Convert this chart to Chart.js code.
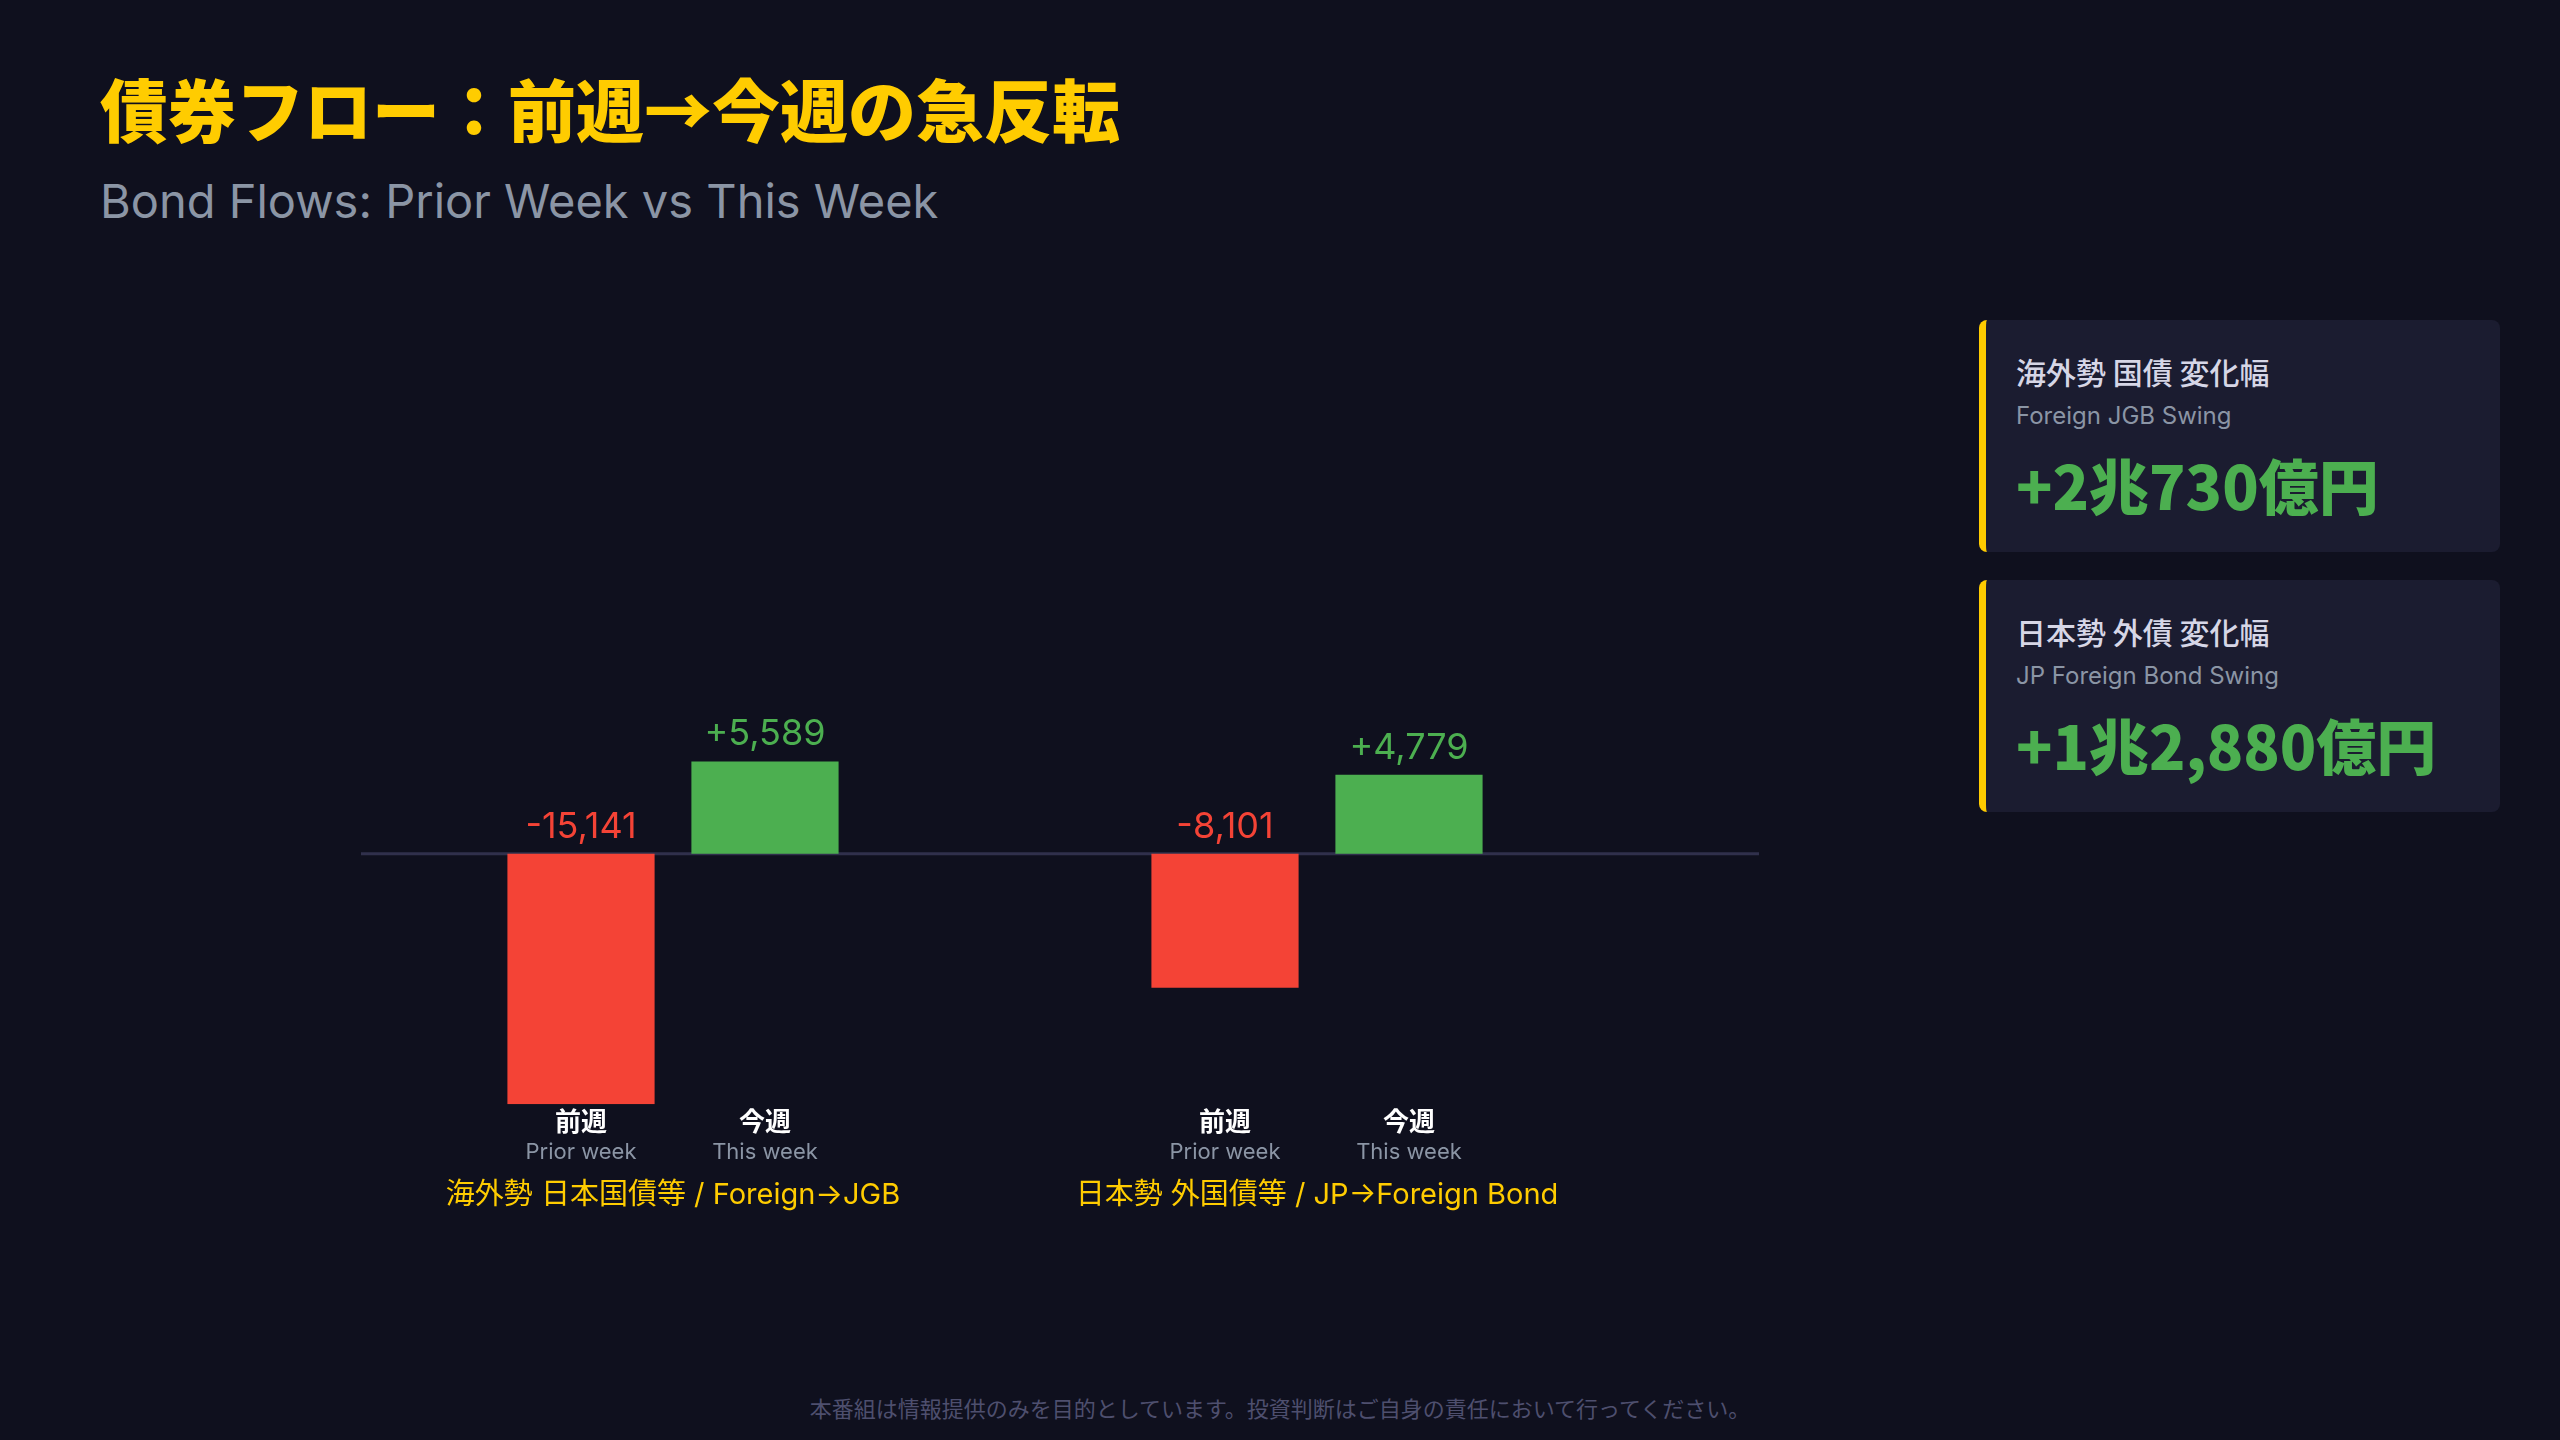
<!DOCTYPE html>
<html lang="ja">
<head>
<meta charset="utf-8">
<script src="https://cdn.jsdelivr.net/npm/chart.js@4.4.1/dist/chart.umd.min.js"></script>
<style>
  html, body { margin: 0; padding: 0; }
  body {
    width: 2560px; height: 1440px; position: relative; overflow: hidden;
    background: #0f101e;
    font-family: Inter, "Noto Sans CJK JP", sans-serif;
  }
  .title {
    position: absolute; left: 100px; top: 67px;
    font-family: "Noto Sans CJK JP", sans-serif; font-weight: 900;
    font-size: 68px; line-height: 82px; color: #ffcc00;
  }
  .subtitle {
    position: absolute; left: 100px; top: 172px;
    font-size: 47px; line-height: 58px; color: #8b95a5;
  }
  .card {
    position: absolute; left: 1979px; width: 521px; height: 232px;
    box-sizing: border-box; padding: 33px 0 0 30px;
    background: #1b1c30; border-left: 7px solid #ffcc00; border-radius: 8px;
  }
  .card .ja { font-size: 30px; line-height: 36px; color: #d6d6e6; font-weight: 500; font-family: "Noto Sans CJK JP", sans-serif; }
  .card .en { font-size: 24px; line-height: 28px; color: #8b95a5; margin-top: 13px; }
  .card .val { font-size: 60px; line-height: 68px; color: #4caf50; font-weight: 900; margin-top: 20px; font-family: "Noto Sans CJK JP", sans-serif; }
  #chartBox { position: absolute; left: 351px; top: 490px; width: 1408px; height: 797px; }
  .footer {
    position: absolute; left: 0; width: 2560px; top: 1392px; text-align: center;
    font-size: 22px; line-height: 30px; color: #4e4f6e; font-family: "Noto Sans CJK JP", sans-serif;
  }
</style>
</head>
<body>
<div class="title">債券フロー：前週→今週の急反転</div>
<div class="subtitle">Bond Flows: Prior Week vs This Week</div>
<div id="cards"></div>
<div id="chartBox"><canvas id="flowChart"></canvas></div>
<div class="footer">本番組は情報提供のみを目的としています。投資判断はご自身の責任において行ってください。</div>

<script>
// groups (億円)
const groups = ['海外勢 日本国債等 / Foreign→JGB', '日本勢 外国債等 / JP→Foreign Bond'];
const priorWeek = [-15141, -8101];
const thisWeek = [5589, 4779];
const weekJa = ['前週', '今週'];
const weekEn = ['Prior week', 'This week'];
const cardJa = ['海外勢 国債 変化幅', '日本勢 外債 変化幅'];
const cardEn = ['Foreign JGB Swing', 'JP Foreign Bond Swing'];

const RED = '#f44336';
const GREEN = '#4caf50';
const FONT = 'Inter, "Noto Sans CJK JP", sans-serif';

// swing cards, e.g. 20730 -> +2兆730億円
function fmtOku(v) {
    return '+' + Math.floor(v / 10000) + '兆' + (v % 10000).toLocaleString('en-US') + '億円';
}
const cards = document.getElementById('cards');
groups.forEach((g, i) => {
    const d = document.createElement('div');
    d.className = 'card';
    d.style.top = (320 + i * 260) + 'px';
    d.innerHTML = '<div class="ja">' + cardJa[i] + '</div><div class="en">' + cardEn[i] +
        '</div><div class="val">' + fmtOku(thisWeek[i] - priorWeek[i]) + '</div>';
    cards.appendChild(d);
});

const barText = {
    id: 'barText',
    beforeDatasetsDraw(chart) {
        const { ctx, chartArea } = chart;
        const y0 = chart.scales.y.getPixelForValue(0);
        ctx.save();
        ctx.strokeStyle = '#30304c';
        ctx.lineWidth = 3;
        ctx.beginPath();
        ctx.moveTo(chartArea.left + 10, y0);
        ctx.lineTo(chart.width, y0);
        ctx.stroke();
        ctx.restore();
    },
    afterDatasetsDraw(chart) {
        const { ctx, chartArea } = chart;
        ctx.save();
        ctx.textAlign = 'center';
        chart.data.datasets.forEach((ds, di) => {
            chart.getDatasetMeta(di).data.forEach((bar, i) => {
                const v = ds.data[i];
                ctx.textBaseline = 'alphabetic';
                ctx.font = '36px ' + FONT;
                ctx.fillStyle = v < 0 ? RED : GREEN;
                ctx.fillText((v > 0 ? '+' : '') + v.toLocaleString('en-US'), bar.x, Math.min(bar.y, bar.base) - 16);

                ctx.textBaseline = 'middle';
                ctx.font = 'bold 26px ' + FONT;
                ctx.fillStyle = '#ffffff';
                ctx.fillText(weekJa[di], bar.x, chartArea.bottom + 19);
                ctx.font = '22px ' + FONT;
                ctx.fillStyle = '#8b95a5';
                ctx.fillText(weekEn[di], bar.x, chartArea.bottom + 48);
            });
        });
        ctx.restore();
    }
};

const signColor = c => (c.raw < 0 ? RED : GREEN);

new Chart(document.getElementById('flowChart'), {
    type: 'bar',
    data: {
        labels: groups,
        datasets: [
            { label: weekJa[0], data: priorWeek, backgroundColor: signColor },
            { label: weekJa[1], data: thisWeek, backgroundColor: signColor }
        ]
    },
    options: {
        responsive: true,
        maintainAspectRatio: false,
        animation: false,
        categoryPercentage: 0.5714,
        barPercentage: 0.8,
        layout: { padding: { right: 120 } },
        plugins: { legend: { display: false }, tooltip: { enabled: false } },
        scales: {
            x: {
                grid: { display: false, drawTicks: false },
                border: { display: false },
                ticks: { color: '#ffcc00', font: { size: 29, family: FONT }, padding: 74 }
            },
            y: {
                display: false,
                min: Math.min(...priorWeek, ...thisWeek),
                max: 22000
            }
        }
    },
    plugins: [barText]
});
</script>
</body>
</html>
